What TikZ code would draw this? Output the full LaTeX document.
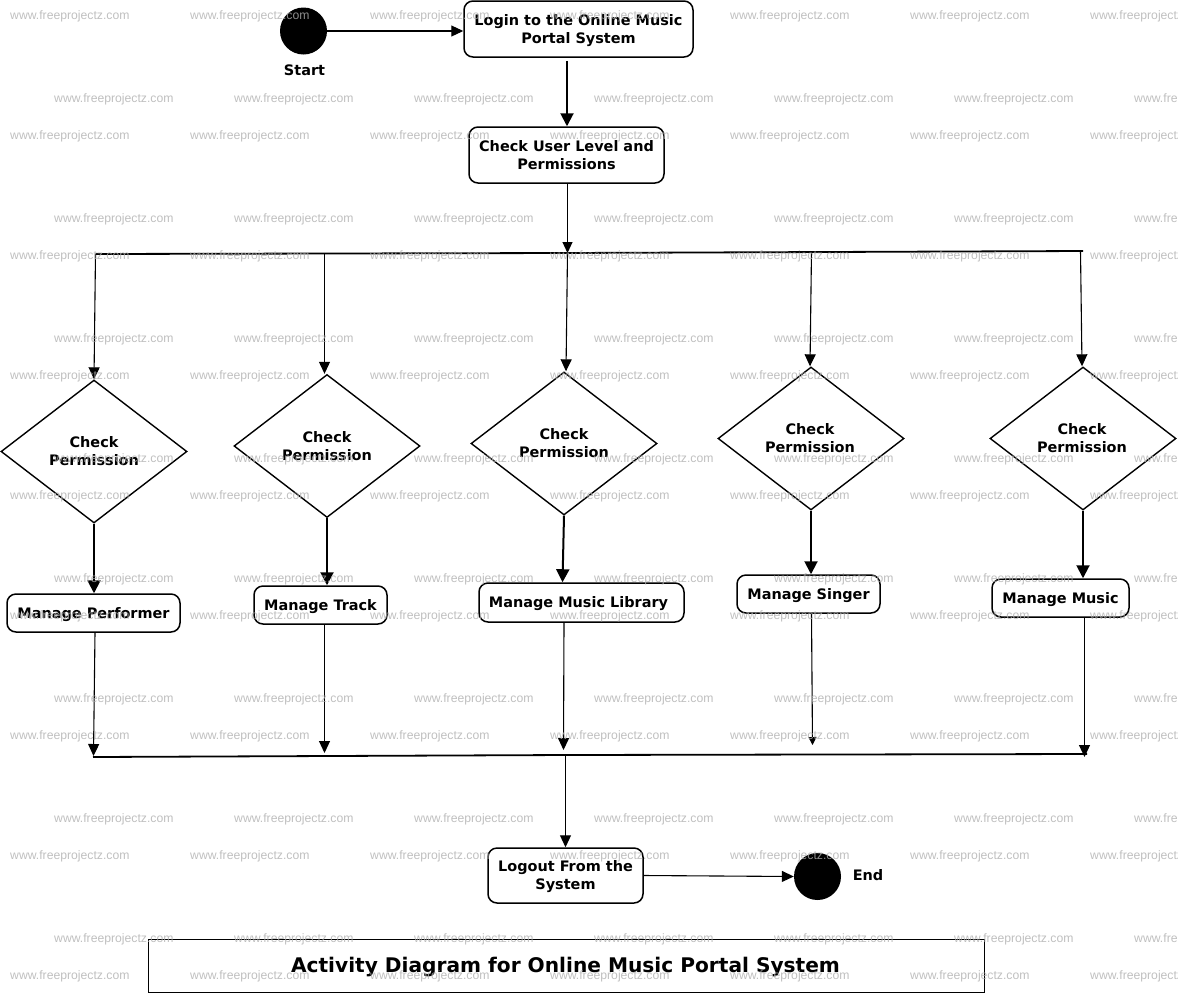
\documentclass[tikz,border=0pt]{standalone}
\usepackage{fontspec}
\setmainfont{DejaVu Sans}
\newfontfamily\wmfont{Liberation Sans}
\usetikzlibrary{shapes.geometric,arrows.meta}
\definecolor{wmgray}{HTML}{AFAFAF}
\newcommand{\dnl}[2]{\raisebox{-#1pt}[\height][\depth]{#2}}
\tikzset{
  x=1pt,y=-1pt,
  every node/.style={font=\bfseries\fontsize{14.45}{18}\selectfont,align=center,inner sep=0pt},
  act/.style={draw,line width=1.5pt,rounded corners=9pt,fill=white},
  dec/.style={draw,diamond,line width=1.4pt,minimum width=186pt,minimum height=143pt,aspect=1.3},
  dot/.style={circle,fill=black,minimum size=47pt},
  thin arrow/.style={line width=1.1pt,-{Triangle[length=12pt,width=11pt]}},
  thick arrow/.style={line width=2pt,-{Triangle[length=13pt,width=13pt]}},
  bar/.style={line width=1.8pt},
  wm/.style={font=\wmfont\fontsize{12.2}{14}\selectfont,text=wmgray,opacity=.8,anchor=west},
}
\begin{document}
\begin{tikzpicture}
\useasboundingbox (0,0) rectangle (1178,994);
% nodes
\node[dot] (start) at (303.5,31) {};
\node (startlbl) at (304.5,70) {Start};
\node[act,minimum width=229pt,minimum height=56pt] (login) at (578.5,29) {\dnl{2}{Login to the Online Music}\\\dnl{2}{Portal System}};
\node[act,minimum width=195pt,minimum height=56pt] (check) at (566.5,155) {Check User Level and\\Permissions};
\coordinate (topL) at (95.5,254);
\coordinate (topR) at (1083,251);
\coordinate (t2) at (324.5,254);
\coordinate (t3) at (567.5,253);
\coordinate (t4) at (811.5,251);
\coordinate (t5) at (1080.5,251);
\node[dec] (d1) at (94,451.5) {Check\\Permission};
\node[dec] (d2) at (327,446) {Check\\Permission};
\node[dec] (d3) at (564,443.5) {Check\\Permission};
\node[dec] (d4) at (811,438.5) {\hspace*{-2pt}Check\\\hspace*{-2pt}Permission};
\node[dec] (d5) at (1083,438.5) {\hspace*{-2pt}Check\\\hspace*{-2pt}Permission};
\node[act,minimum width=173pt,minimum height=38pt] (p) at (93.5,613) {\dnl{2}{Manage Performer}};
\node[act,minimum width=133pt,minimum height=38pt] (t) at (320.5,605) {\dnl{2}{Manage Track}};
\node[act,minimum width=205pt,minimum height=39pt] (l) at (581.5,602.5) {\dnl{1}{\hspace*{-6pt}Manage Music Library}};
\node[act,minimum width=143pt,minimum height=38pt] (s) at (808.5,594) {\dnl{2}{Manage Singer}};
\node[act,minimum width=137pt,minimum height=38pt] (m) at (1060.5,598) {\dnl{2}{Manage Music}};
\coordinate (botL) at (93,757);
\coordinate (botR) at (1087,754);
\coordinate (b1) at (93.5,757);
\coordinate (b2) at (324.5,755);
\coordinate (b3) at (563.5,755);
\coordinate (b4) at (812.5,754);
\coordinate (b5) at (1084.5,757);
\coordinate (bo) at (565.5,755);
\node[act,minimum width=155pt,minimum height=55pt] (logout) at (565.5,875.5) {\dnl{1}{Logout From the}\\\dnl{1}{System}};
\node[dot] (stop) at (817.5,876.5) {};
\node (stoplbl) at (868,875) {End};
\node[draw,line width=1pt,minimum width=836pt,minimum height=53pt] (title) at (566.5,965.5) {};
\node[font=\bfseries\fontsize{20.15}{25}\selectfont] (titletext) at (565.5,965) {\dnl{2}{Activity Diagram for Online Music Portal System}};
% connectors
\draw[thin arrow] (start) -- (login.west |- start);
\draw[thick arrow,shorten <=3pt] ([xshift=-11.5pt]login.south) -- ([xshift=.5pt]check.north);
\draw[thin arrow,-{Triangle[length=11pt,width=10pt]}] ([xshift=1pt]check.south) -- (t3);
\draw[bar] (topL) -- (t3) -- (topR);
\draw[thin arrow] (topL) -- (d1.north);
\draw[thin arrow] (t2) -- (t2 |- d2.north);
\draw[thin arrow] (t3) -- ([xshift=2pt]d3.north);
\draw[thin arrow] (t4) -- ([xshift=-1pt]d4.north);
\draw[thin arrow] (t5) -- ([xshift=-1pt]d5.north);
\draw[thick arrow] (d1.south) -- (p.north -| d1.south);
\draw[thick arrow] (d2.south) -- (t.north -| d2.south);
\draw[thick arrow] (d3.south) -- ([xshift=-19pt]l.north);
\draw[thick arrow] (d4.south) -- (s.north -| d4.south);
\draw[thick arrow] (d5.south) -- (m.north -| d5.south);
\draw[thin arrow] ([xshift=1.5pt]p.south) -- ([yshift=1pt]b1);
\draw[thin arrow] (t.south -| t2) -- ([yshift=2pt]b2);
\draw[thin arrow] (l.south -| d3.south) -- ([yshift=5pt]b3);
\draw[thin arrow,-{Triangle[length=8pt,width=8pt]}] (s.south -| t4) -- ([yshift=9pt]b4);
\draw[thin arrow] (m.south -| b5) -- (b5);
\draw[bar] (botL) -- (bo) -- (botR);
\draw[thin arrow] (bo) -- (logout.north);
\draw[thin arrow] (logout.east) -- (stop.west);
% watermark
\foreach \r in {0,...,8}{
  \foreach \c in {0,...,6}{
    \node[wm] (wa\r\c) at ({10+180*\c},{16+120*\r}) {www.freeprojectz.com};
  }
}
\foreach \r in {0,...,7}{
  \foreach \c in {0,...,6}{
    \node[wm] (wb\r\c) at ({54+180*\c},{99+120*\r}) {www.freeprojectz.com};
  }
}
\end{tikzpicture}
\end{document}
